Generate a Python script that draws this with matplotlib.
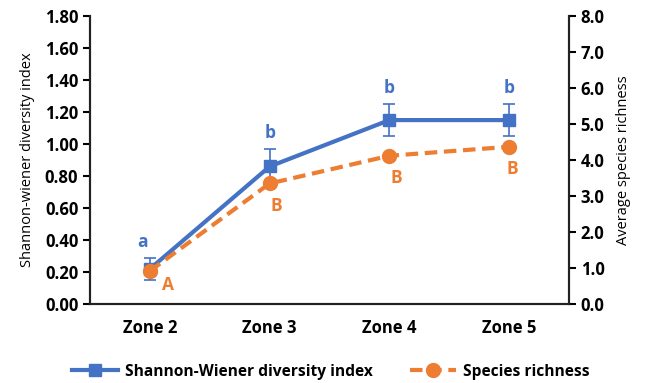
import matplotlib.pyplot as plt
from matplotlib.lines import Line2D
import numpy as np

plt.rcParams['font.family'] = ['Open Sans', 'DejaVu Sans']

zones = ['Zone 2', 'Zone 3', 'Zone 4', 'Zone 5']
shannon = [0.22, 0.86, 1.15, 1.15]
shannon_err = [0.07, 0.11, 0.10, 0.10]
richness = [0.92, 3.35, 4.12, 4.37]
shannon_letters = ['a', 'b', 'b', 'b']
richness_letters = ['A', 'B', 'B', 'B']

blue = '#4472C4'
orange = '#ED7D31'
dash = (0, (3, 1.6))

fig = plt.figure(figsize=(6.48, 3.83), dpi=100)
ax = fig.add_axes([0.139, 0.206, 0.739, 0.752])
ax2 = ax.twinx()

x = np.arange(len(zones))

ax.errorbar(x, shannon, yerr=shannon_err, color=blue, lw=3, marker='s', ms=9,
            capsize=4, elinewidth=1.2, capthick=1.2, zorder=3)
ax2.plot(x, richness, color=orange, lw=3, ls=dash, marker='o', ms=10, zorder=2)

# significance letters
for xi, v, e, t in zip(x, shannon, shannon_err, shannon_letters):
    ax.annotate(t, (xi, v + e), xytext=(-5 if t == 'a' else 0, 5),
                textcoords='offset points', ha='center', va='bottom',
                color=blue, fontsize=12.5, fontweight='bold')
offsets = [(13, -10), (5, -16), (5, -16), (2, -16)]
for xi, v, t, off in zip(x, richness, richness_letters, offsets):
    ax2.annotate(t, (xi, v), xytext=off, textcoords='offset points',
                 ha='center', va='center', color=orange, fontsize=12.5,
                 fontweight='bold')

ax.set_xlim(-0.5, 3.5)
ax.set_ylim(0, 1.8)
ax2.set_ylim(0, 8)
ax.set_yticks(np.arange(0, 1.81, 0.2))
ax.set_yticklabels([f'{v:.2f}' for v in np.arange(0, 1.81, 0.2)])
ax2.set_yticks(np.arange(0, 8.1, 1))
ax2.set_yticklabels([f'{v:.1f}' for v in np.arange(0, 8.1, 1)])
ax.set_xticks(x)
ax.set_xticklabels(zones)

for a in (ax, ax2):
    a.spines['top'].set_visible(False)
    for s in ('left', 'right', 'bottom'):
        a.spines[s].set_linewidth(1.5)
        a.spines[s].set_color('#222222')
    a.tick_params(axis='y', direction='out', length=5, width=1.5,
                  labelsize=12)
    for lbl in a.get_yticklabels():
        lbl.set_fontweight('bold')
ax.tick_params(axis='x', length=0, pad=11, labelsize=12)
for lbl in ax.get_xticklabels():
    lbl.set_fontweight('bold')

ax.set_ylabel('Shannon-wiener diversity index', fontsize=10.5, labelpad=7)
ax2.set_ylabel('Average species richness', fontsize=10.5, labelpad=8)

handles = [
    Line2D([], [], color=blue, lw=3, marker='s', ms=9),
    Line2D([], [], color=orange, lw=3, ls=dash, marker='o', ms=10),
]
labels = ['Shannon-Wiener diversity index', 'Species richness']
fig.legend(handles, labels, loc='lower center', bbox_to_anchor=(0.51, -0.028),
           ncol=2, frameon=False, prop={'weight': 'bold', 'size': 11.2},
           handlelength=3.0, columnspacing=2.4, handletextpad=0.4)

fig.savefig('out.png', dpi=100)
